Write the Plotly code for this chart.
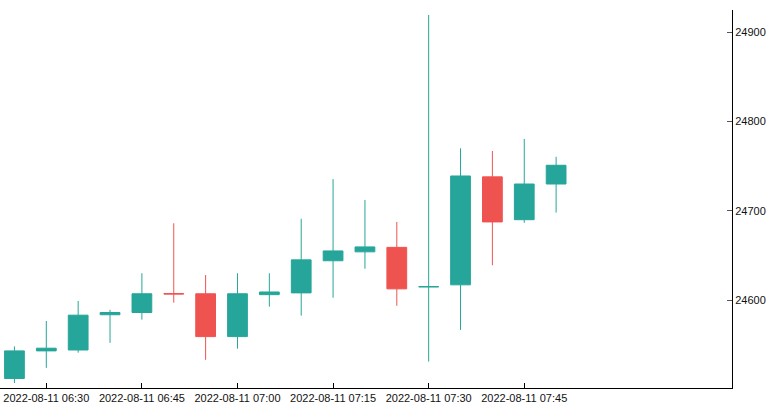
import plotly.graph_objects as go

times = ["2022-08-11 06:25", "2022-08-11 06:30", "2022-08-11 06:35", "2022-08-11 06:40",
         "2022-08-11 06:45", "2022-08-11 06:50", "2022-08-11 06:55", "2022-08-11 07:00",
         "2022-08-11 07:05", "2022-08-11 07:10", "2022-08-11 07:15", "2022-08-11 07:20",
         "2022-08-11 07:25", "2022-08-11 07:30", "2022-08-11 07:35", "2022-08-11 07:40",
         "2022-08-11 07:45", "2022-08-11 07:50"]
opens = [24512, 24543, 24544, 24583.5, 24586, 24607.2, 24607, 24559, 24606, 24608,
         24644, 24654, 24659, 24614.7, 24617, 24738, 24690, 24730]
highs = [24548, 24576.5, 24599, 24589, 24630, 24686, 24628, 24630, 24630, 24691,
         24735.5, 24712, 24687.5, 24919.5, 24770, 24767, 24780.5, 24760.5]
lows = [24507, 24524, 24541, 24552, 24578, 24597, 24533, 24545.5, 24592.5, 24582.5,
        24602.5, 24635, 24593.5, 24531, 24566.5, 24639, 24686.5, 24698]
closes = [24543, 24546, 24583, 24586, 24607, 24606.8, 24559, 24607, 24609, 24645,
          24655, 24659.5, 24612.5, 24615, 24739, 24687.5, 24730, 24751]

x_tickvals = ["2022-08-11 06:30", "2022-08-11 06:45", "2022-08-11 07:00",
              "2022-08-11 07:15", "2022-08-11 07:30", "2022-08-11 07:45"]
x_range = ["2022-08-11 06:22:44", "2022-08-11 08:17:36"]
y_range = [24501.4, 24925]

GREEN = "#26A69A"
RED = "#EF5350"

fig = go.Figure(go.Candlestick(
    x=times, open=opens, high=highs, low=lows, close=closes,
    increasing=dict(line=dict(color=GREEN, width=1), fillcolor=GREEN),
    decreasing=dict(line=dict(color=RED, width=1), fillcolor=RED),
    whiskerwidth=0,
))

font = dict(family="Liberation Sans", size=11, color="#111111")
fig.update_layout(
    width=775, height=404,
    margin=dict(l=0, r=43, t=10, b=16),
    paper_bgcolor="white", plot_bgcolor="white",
    showlegend=False,
    boxgap=0.38, boxgroupgap=0,
    font=font,
    xaxis=dict(
        type="date", range=x_range, rangeslider=dict(visible=False),
        tickmode="array", tickvals=x_tickvals, tickformat="%Y-%m-%d %H:%M",
        showgrid=False, zeroline=False,
        showline=True, linecolor="black", linewidth=1,
        ticks="inside", ticklen=5, tickcolor="black",
        tickfont=font,
    ),
    yaxis=dict(
        side="right", range=y_range, dtick=100, tick0=24600,
        showgrid=False, zeroline=False,
        showline=True, linecolor="black", linewidth=1,
        ticks="inside", ticklen=5, tickcolor="#555555",
        tickfont=font, tickformat="d",
    ),
)

fig.write_html("out.html")
